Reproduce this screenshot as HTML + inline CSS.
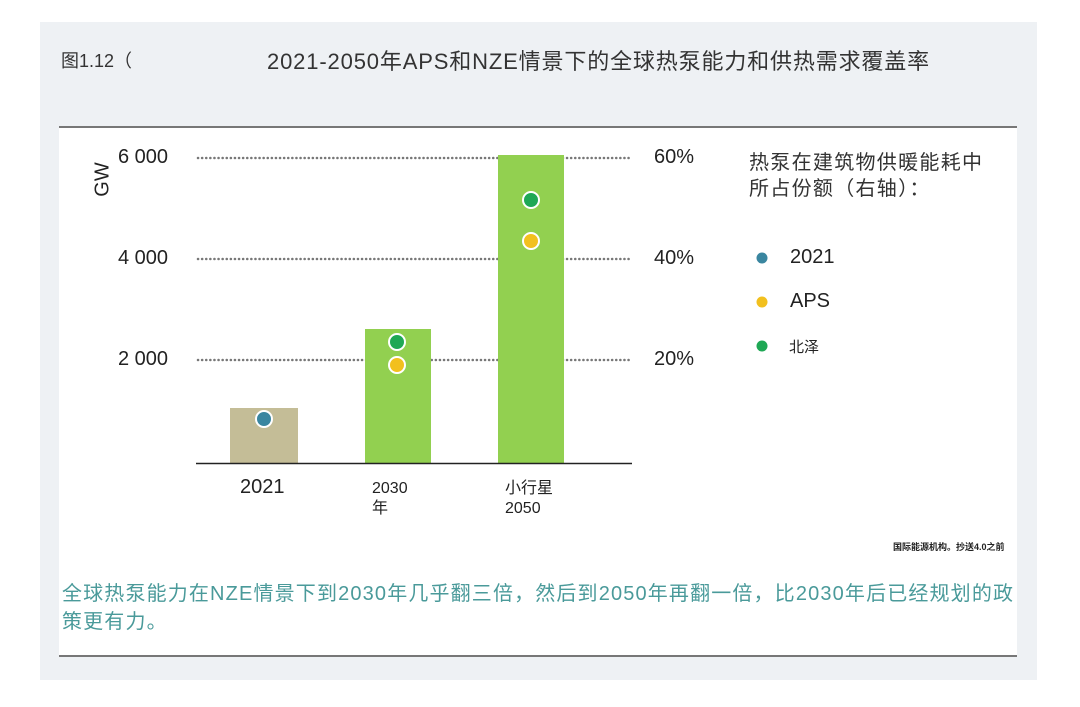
<!DOCTYPE html>
<html><head><meta charset="utf-8"><style>
body{margin:0;width:1080px;height:707px;background:#fff;position:relative;overflow:hidden;font-family:"Liberation Sans","Noto Sans CJK SC",sans-serif;color:#222}
.a{position:absolute;white-space:nowrap}
</style></head><body>
<div class="a" style="left:40px;top:22px;width:997px;height:658px;background:#eef1f4"></div>
<div class="a" style="left:59px;top:126px;width:958px;height:527px;background:#fff;border-top:2px solid #777;border-bottom:2px solid #777"></div>
<div class="a" style="left:61px;top:47px;font-size:18px;color:#333">图1.12（</div>
<div class="a" style="left:267px;top:44px;font-size:22px;color:#333;letter-spacing:0.85px">2021-2050年APS和NZE情景下的全球热泵能力和供热需求覆盖率</div>
<svg class="a" style="left:0;top:0" width="1080" height="707">
<g stroke="#777" stroke-width="2.5" stroke-dasharray="0.1 4" stroke-linecap="round">
<line x1="198" y1="158" x2="632" y2="158"/><line x1="198" y1="259" x2="632" y2="259"/><line x1="198" y1="360" x2="632" y2="360"/>
</g>
<rect x="230" y="408" width="68" height="55" fill="#c4bd97"/>
<rect x="365" y="329" width="66" height="134" fill="#92d050"/>
<rect x="498" y="155" width="66" height="308" fill="#92d050"/>
<line x1="196" y1="463.5" x2="632" y2="463.5" stroke="#222" stroke-width="1.5"/>
<g stroke="#fff" stroke-width="2">
<circle cx="264" cy="419" r="8" fill="#3a86a0"/>
<circle cx="397" cy="342" r="8" fill="#1fa855"/>
<circle cx="397" cy="365" r="8" fill="#f2c01e"/>
<circle cx="531" cy="200" r="8" fill="#1fa855"/>
<circle cx="531" cy="241" r="8" fill="#f2c01e"/>
</g>
<circle cx="762" cy="258" r="5.5" fill="#3a86a0"/>
<circle cx="762" cy="302" r="5.5" fill="#f2c01e"/>
<circle cx="762" cy="346" r="5.5" fill="#1fa855"/>
</svg>
<div class="a" style="left:86px;top:168px;font-size:20px;transform:rotate(-90deg);transform-origin:center">GW</div>
<div class="a" style="left:118px;top:146px;font-size:20px">6 000</div>
<div class="a" style="left:118px;top:247px;font-size:20px">4 000</div>
<div class="a" style="left:118px;top:348px;font-size:20px">2 000</div>
<div class="a" style="left:654px;top:146px;font-size:20px">60%</div>
<div class="a" style="left:654px;top:247px;font-size:20px">40%</div>
<div class="a" style="left:654px;top:348px;font-size:20px">20%</div>
<div class="a" style="left:240px;top:476px;font-size:20px">2021</div>
<div class="a" style="left:372px;top:479px;font-size:16px;line-height:20px">2030<br>年</div>
<div class="a" style="left:505px;top:479px;font-size:16px;line-height:20px">小行星<br>2050</div>
<div class="a" style="left:749px;top:150px;font-size:20px;line-height:26px;color:#333;letter-spacing:1.3px">热泵在建筑物供暖能耗中<br>所占份额（右轴）：</div>
<div class="a" style="left:790px;top:246px;font-size:20px">2021</div>
<div class="a" style="left:790px;top:290px;font-size:20px">APS</div>
<div class="a" style="left:789px;top:336px;font-size:15px">北泽</div>
<div class="a" style="left:893px;top:540px;font-size:9px;font-weight:bold">国际能源机构。抄送4.0之前</div>
<div class="a" style="left:62px;top:580px;font-size:20px;line-height:28px;color:#4a9a9a;letter-spacing:1.15px">全球热泵能力在NZE情景下到2030年几乎翻三倍，然后到2050年再翻一倍，比2030年后已经规划的政<br>策更有力。</div>
</body></html>
